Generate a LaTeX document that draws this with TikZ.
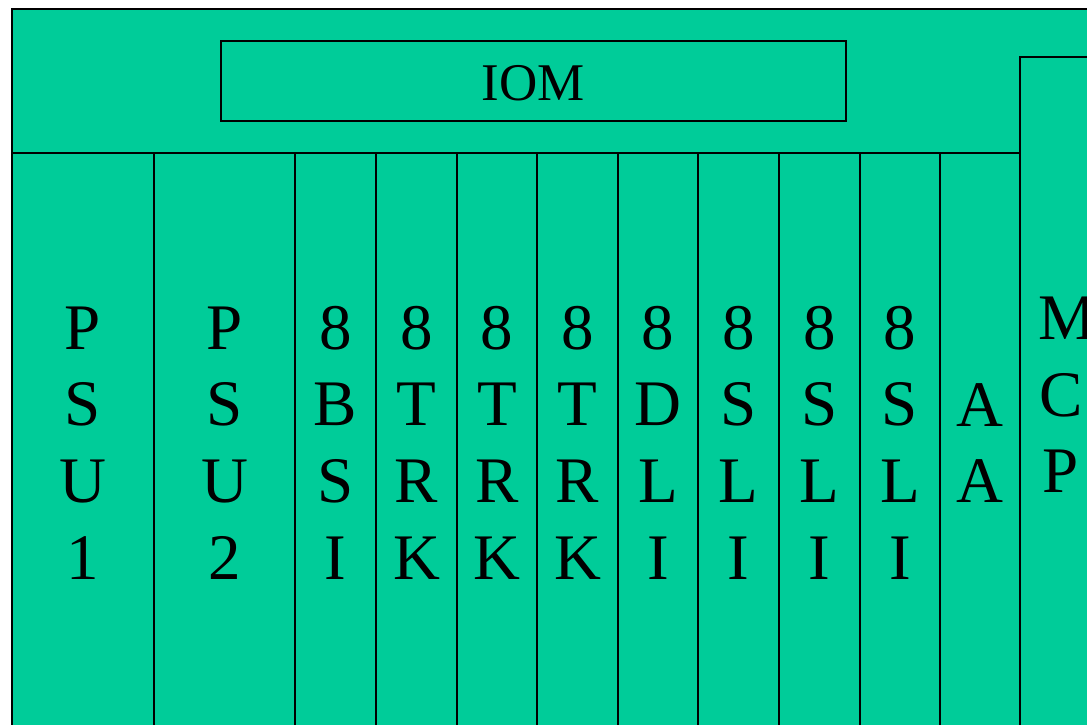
\documentclass[tikz,border=0pt]{standalone}
\usepackage{fontspec}
\setmainfont{Liberation Serif}
\definecolor{bg}{HTML}{00CC99}
\begin{document}
\begin{tikzpicture}[x=1pt,y=-1pt,line width=1.5pt,
  slot/.style={draw=black, fill=bg, inner sep=0pt, outer sep=0pt, anchor=north west},
  letter/.style={font=\fontsize{65}{77}\selectfont, anchor=base, inner sep=0pt},
  title/.style={font=\fontsize{53}{60}\selectfont, anchor=base, inner sep=0pt}]
\useasboundingbox (0,0) rectangle (1087,724);
\begin{scope}
\clip (0,0) rectangle (1087,724);
% chassis
\node[slot, minimum width=1100pt, minimum height=760pt] (chassis) at (12,9) {};
% IOM module
\node[slot, minimum width=625pt, minimum height=80pt] (iom) at (221,41) {};
\node[title] (iomlabel) at (533.5,100) {IOM};
% slot columns
\foreach \a/\b [count=\i] in {12/154,154/295,295/376,376/457,457/537,537/618,618/698,698/779,779/860,860/940,940/1020}
  \node[slot, minimum width={\b-\a}, minimum height=620pt] (col\i) at (\a,153) {};
% MCP
\node[slot, minimum width=100pt, minimum height=700pt] (mcp) at (1020,57) {};
% letters
\foreach \cx/\ls/\first [count=\i] in {83/{P,S,U,1}/349, 224.5/{P,S,U,2}/349, 335.5/{8,B,S,I}/349,
   416.5/{8,T,R,K}/349, 497/{8,T,R,K}/349, 577.5/{8,T,R,K}/349, 658/{8,D,L,I}/349,
   738.5/{8,S,L,I}/349, 819.5/{8,S,L,I}/349, 900/{8,S,L,I}/349, 980/{A,A}/426}
  \foreach \l [count=\j] in \ls
    \node[letter] (l\i-\j) at (\cx,{\first+76.7*(\j-1)}) {\l};
\node[letter, anchor=base west] (mcp1) at (1038,339) {M};
\node[letter, anchor=base west] (mcp2) at (1039,416) {C};
\node[letter, anchor=base west] (mcp3) at (1042,492) {P};
\end{scope}
\end{tikzpicture}
\end{document}
